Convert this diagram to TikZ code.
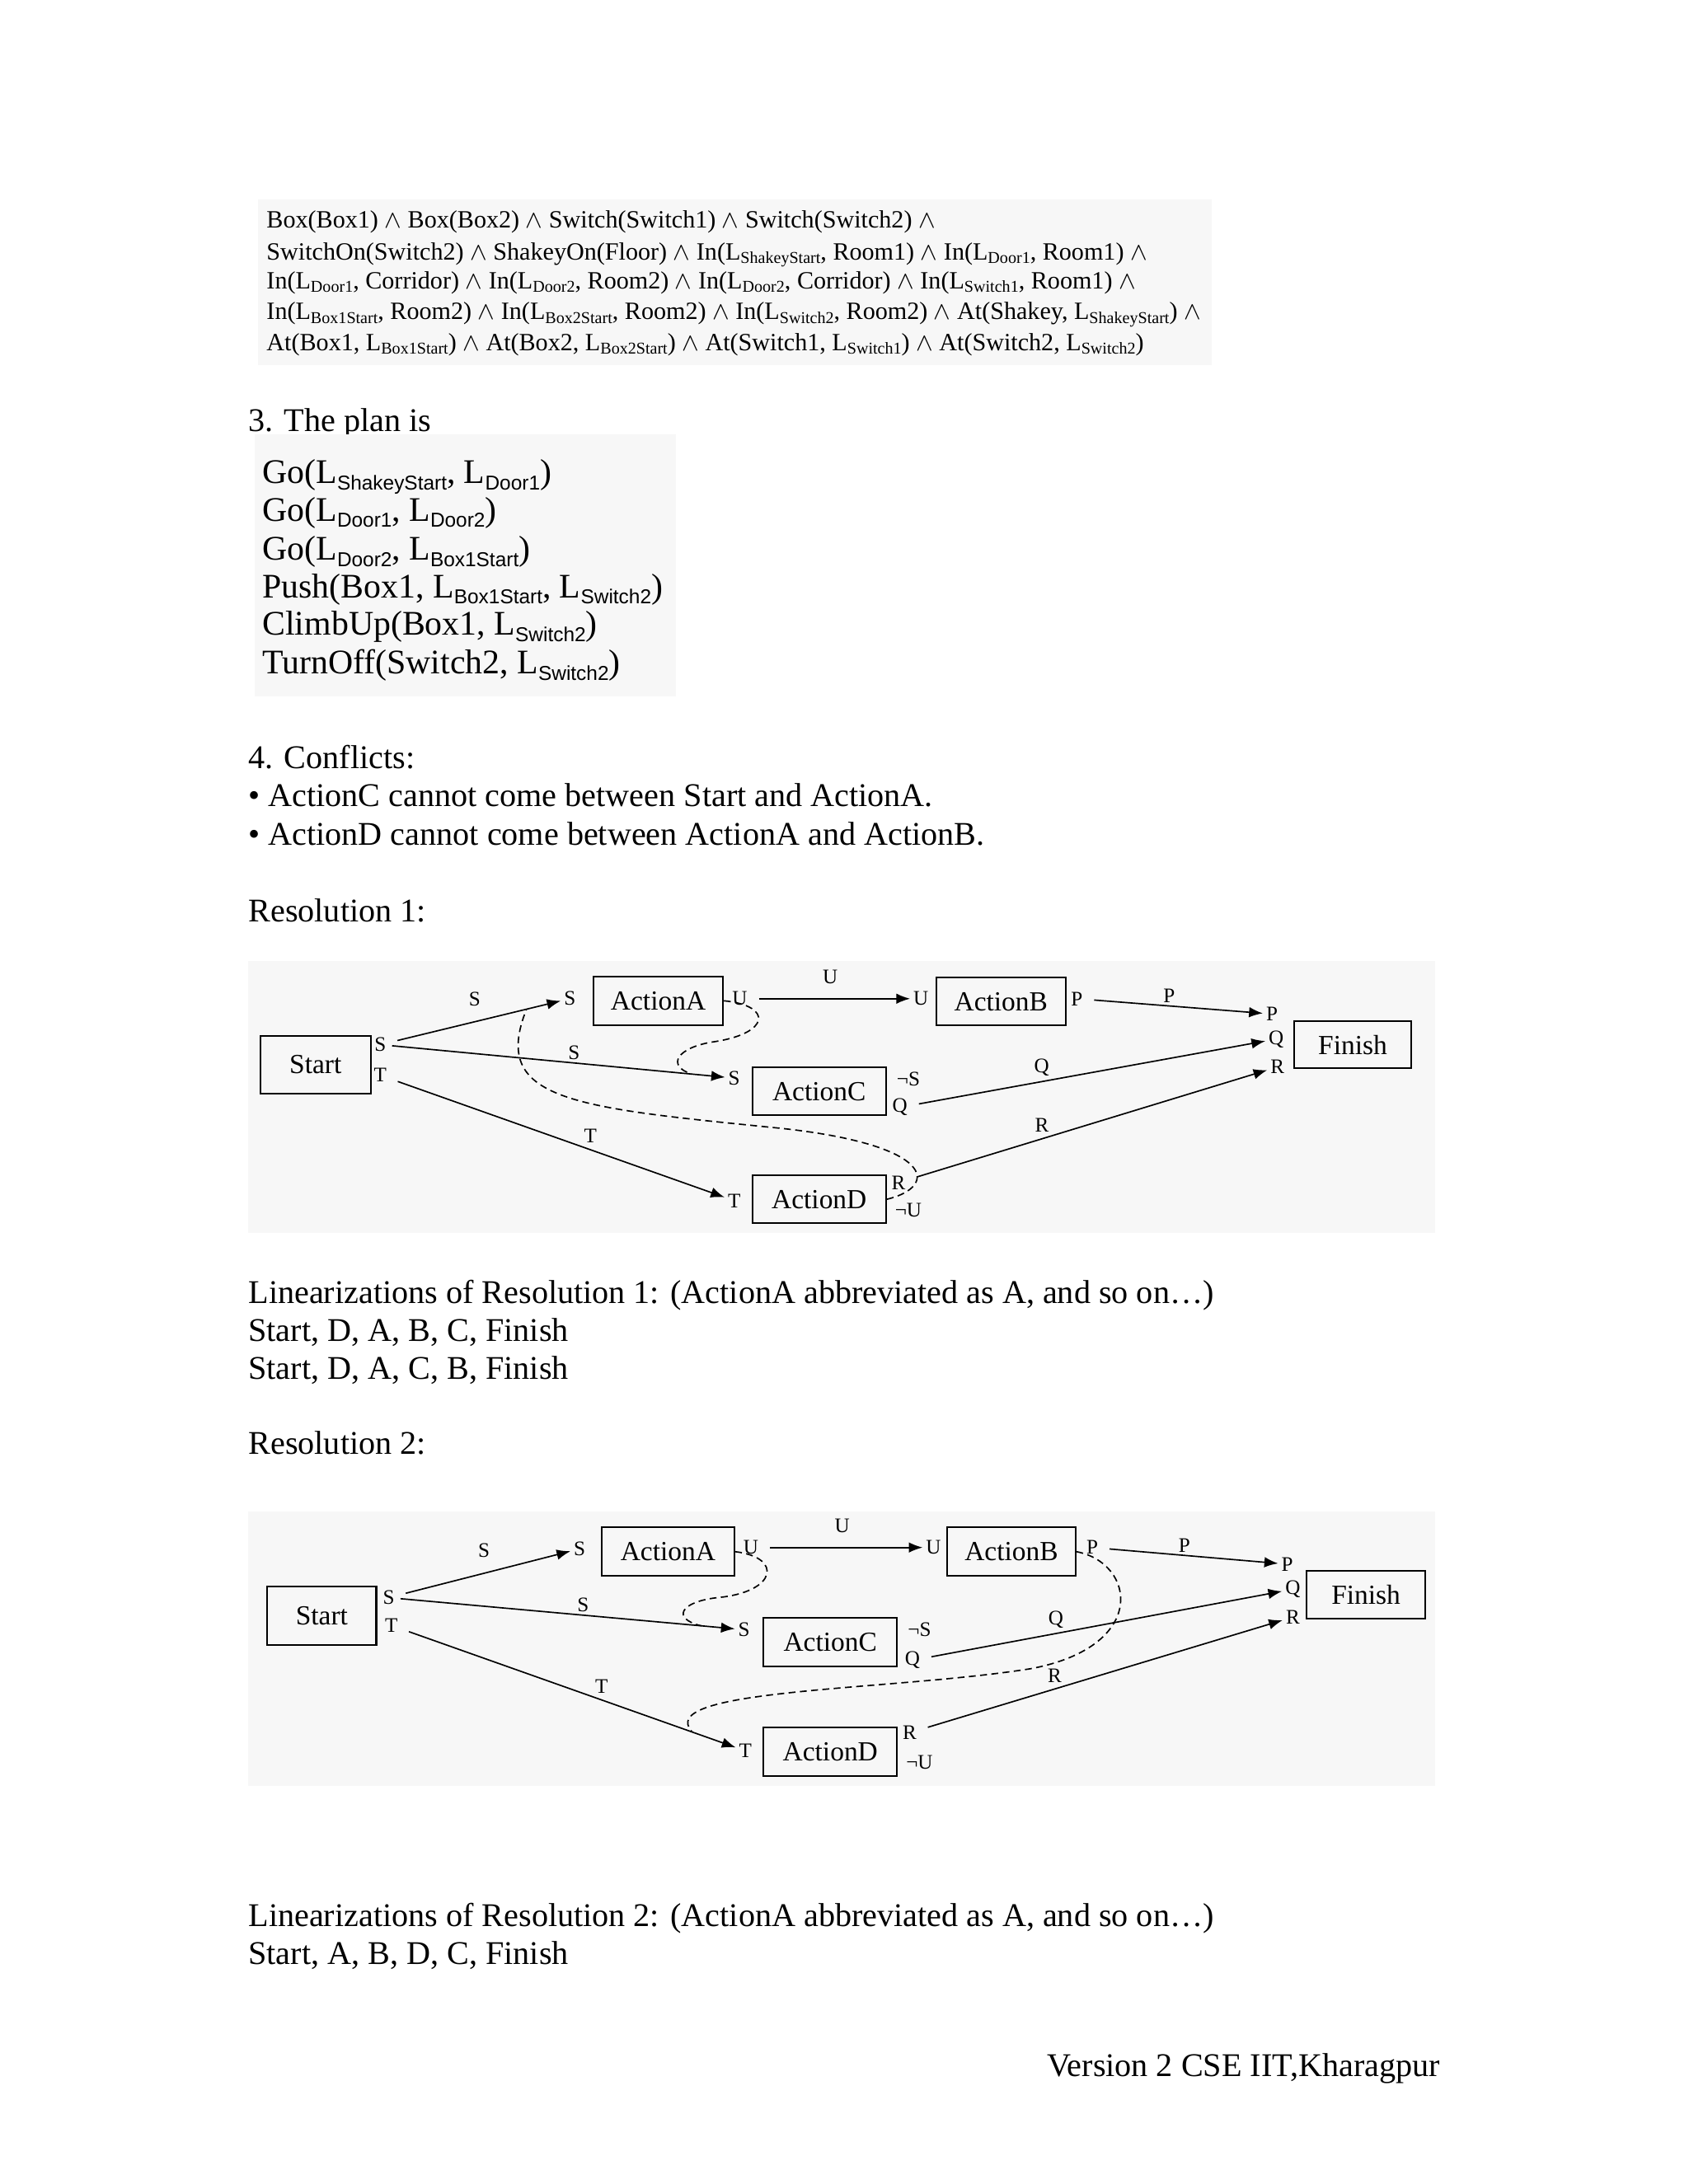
\documentclass[tikz,border=0pt]{standalone}
\usepackage{fontspec}
\setmainfont{Liberation Serif}
\setsansfont{Liberation Sans}
\usetikzlibrary{arrows.meta}

\newcommand{\Lf}[1]{L\raisebox{-0.3ex}{\fontsize{6}{6}\selectfont #1}}
\newcommand{\Lp}[1]{L\raisebox{-0.4ex}{\sffamily\fontsize{7.3}{8}\selectfont #1}}
\newcommand{\andop}{\ $\wedge$\ }

\tikzset{
  body/.style={anchor=base west, inner sep=0pt, font=\fontsize{12}{14}\selectfont},
  formula/.style={anchor=base west, inner sep=0pt, font=\fontsize{9}{11}\selectfont},
  planline/.style={anchor=base west, inner sep=0pt, font=\fontsize{12.5}{14}\selectfont},
  panel/.style={fill=black!3},
  actbox/.style={draw, line width=0.6pt, inner sep=0pt, minimum width=47pt, minimum height=17.5pt, font=\fontsize{10}{12}\selectfont},
  port/.style={inner sep=1pt, font=\fontsize{7.5}{8}\selectfont},
  edgelab/.style={inner sep=1pt, font=\fontsize{7.5}{8}\selectfont},
  conn/.style={-{Latex[length=5pt,width=3.8pt]}, line width=0.5pt, shorten <=1pt},
  threat/.style={line width=0.5pt, dash pattern=on 2.5pt off 1.6pt}
}

\begin{document}
\begin{tikzpicture}[x=0.505pt, y=-0.505pt]
    % Lapas
    \useasboundingbox[fill=white] (0,0) rectangle (1212,1568);

    % Pradinė būsena
    \fill[panel] (185,143) rectangle (870,262);
    \node[formula] (init1) at (191,163.5) {Box(Box1)\andop Box(Box2)\andop Switch(Switch1)\andop Switch(Switch2)\ $\wedge$};
    \node[formula] (init2) at (191,186.5) {SwitchOn(Switch2)\andop ShakeyOn(Floor)\andop In(\Lf{ShakeyStart}, Room1)\andop In(\Lf{Door1}, Room1)\ $\wedge$};
    \node[formula] (init3) at (191,207.5) {In(\Lf{Door1}, Corridor)\andop In(\Lf{Door2}, Room2)\andop In(\Lf{Door2}, Corridor)\andop In(\Lf{Switch1}, Room1)\ $\wedge$};
    \node[formula] (init4) at (191,229.5) {In(\Lf{Box1Start}, Room2)\andop In(\Lf{Box2Start}, Room2)\andop In(\Lf{Switch2}, Room2)\andop At(Shakey, \Lf{ShakeyStart})\ $\wedge$};
    \node[formula] (init5) at (191,251.5) {At(Box1, \Lf{Box1Start})\andop At(Box2, \Lf{Box2Start})\andop At(Switch1, \Lf{Switch1})\andop At(Switch2, \Lf{Switch2})};

    % Planas
    \node[body] (planhead) at (178,310) {3. The plan is};
    \fill[panel] (183,312) rectangle (485,500);
    \node[planline] (plan1) at (188,347) {Go(\Lp{ShakeyStart}, \Lp{Door1})};
    \node[planline] (plan2) at (188,374) {Go(\Lp{Door1}, \Lp{Door2})};
    \node[planline] (plan3) at (188,402) {Go(\Lp{Door2}, \Lp{Box1Start})};
    \node[planline] (plan4) at (188,429) {Push(Box1, \Lp{Box1Start}, \Lp{Switch2})};
    \node[planline] (plan5) at (188,456) {ClimbUp(Box1, \Lp{Switch2})};
    \node[planline] (plan6) at (188,484) {TurnOff(Switch2, \Lp{Switch2})};

    % Konfliktai
    \node[body] (confhead) at (178,552) {4. Conflicts:};
    \node[body] (conf1) at (178,579) {• ActionC cannot come between Start and ActionA.};
    \node[body] (conf2) at (178,607) {• ActionD cannot come between ActionA and ActionB.};
    \node[body] (res1head) at (178,662) {Resolution 1:};

    % Pirmas sprendimas
    \fill[panel] (178,690) rectangle (1030,885);
    \node[actbox, minimum width=40pt, minimum height=21pt] (start1) at (226.5,764.5) {Start};
    \node[actbox] (actA1) at (472.5,718.5) {ActionA};
    \node[actbox] (actB1) at (718.5,719) {ActionB};
    \node[actbox, minimum width=48.5pt] (actC1) at (588,783.5) {ActionC};
    \node[actbox, minimum width=48.5pt] (actD1) at (588,861) {ActionD};
    \node[actbox, minimum width=42.5pt, minimum height=17.2pt] (finish1) at (971,750) {Finish};

    \node[port] (s1S) at (273,750) {S};
    \node[port] (s1T) at (273,772) {T};
    \node[port] (a1S) at (409,717) {S};
    \node[port] (a1U) at (531,717) {U};
    \node[port] (b1U) at (661,717) {U};
    \node[port] (b1P) at (773,717) {P};
    \node[port] (c1S) at (527,774) {S};
    \node[port] (c1nS) at (652,775) {¬S};
    \node[port] (c1Q) at (646,795) {Q};
    \node[port] (d1T) at (527,862) {T};
    \node[port] (d1R) at (645,849) {R};
    \node[port] (d1nU) at (652,869) {¬U};
    \node[port] (f1P) at (913,728) {P};
    \node[port] (f1Q) at (916,746) {Q};
    \node[port] (f1R) at (917,766) {R};

    \draw[conn, shorten <=3pt] (s1S) -- node[edgelab, above left=3pt, pos=0.6] (e1S) {S} coordinate[pos=0.8] (sa1) (a1S);
    \draw[conn] (s1S) -- node[edgelab, above, pos=0.55] (e1Sc) {S} coordinate[pos=0.9] (sc1) (c1S);
    \draw[conn, shorten <=3pt] (s1T) -- node[edgelab, above right, pos=0.57] (e1T) {T} (d1T);
    \draw[conn, shorten <=3pt] (a1U) -- node[edgelab, above=4pt] (e1U) {U} (b1U);
    \draw[conn, shorten <=3pt] (b1P) -- node[edgelab, above, pos=0.47] (e1P) {P} (f1P);
    \draw[conn, shorten <=3pt] (c1Q) -- node[edgelab, above left, pos=0.4] (e1Q) {Q} (f1Q);
    \draw[conn, shorten <=3pt] (d1R) -- node[edgelab, above left, pos=0.4] (e1R) {R} (f1R);

    % Grėsmės
    \draw[threat] (actA1.east) .. controls (555,722) and (553,742) .. (512,748)
        .. controls (486,752) and (478,765) .. (sc1);
    \draw[threat] (actD1.east) .. controls (674,852) and (672,822) .. (560,810)
        .. controls (410,795) and (352,790) .. (sa1);

    % Linearizacijos
    \node[body] (lin1head) at (178,936) {Linearizations of Resolution 1: (ActionA abbreviated as A, and so on…)};
    \node[body] (lin1a) at (178,963) {Start, D, A, B, C, Finish};
    \node[body] (lin1b) at (178,990) {Start, D, A, C, B, Finish};
    \node[body] (res2head) at (178,1044) {Resolution 2:};

    % Antras sprendimas
    \fill[panel] (178,1085) rectangle (1030,1282);
    \node[actbox, minimum width=39.5pt, minimum height=21pt] (start2) at (231,1160) {Start};
    \node[actbox, minimum width=48pt] (actA2) at (479.5,1114) {ActionA};
    \node[actbox, minimum width=46.5pt] (actB2) at (726,1114) {ActionB};
    \node[actbox, minimum width=48.5pt] (actC2) at (596,1179) {ActionC};
    \node[actbox, minimum width=48.5pt] (actD2) at (596,1257.5) {ActionD};
    \node[actbox, minimum width=43pt, minimum height=17.2pt] (finish2) at (980.5,1145) {Finish};

    \node[port] (s2S) at (279,1147) {S};
    \node[port] (s2T) at (281,1167) {T};
    \node[port] (a2S) at (416,1112) {S};
    \node[port] (a2U) at (539,1111) {U};
    \node[port] (b2U) at (670,1111) {U};
    \node[port] (b2P) at (784,1111) {P};
    \node[port] (c2S) at (534,1170) {S};
    \node[port] (c2nS) at (660,1170) {¬S};
    \node[port] (c2Q) at (655,1192) {Q};
    \node[port] (d2T) at (535,1257) {T};
    \node[port] (d2R) at (653,1244) {R};
    \node[port] (d2nU) at (660,1265) {¬U};
    \node[port] (f2P) at (924,1123) {P};
    \node[port] (f2Q) at (928,1141) {Q};
    \node[port] (f2R) at (928,1161) {R};

    \draw[conn, shorten <=3pt] (s2S) -- node[edgelab, above left=3pt, pos=0.6] (e2S) {S} (a2S);
    \draw[conn] (s2S) -- node[edgelab, above, pos=0.55] (e2Sc) {S} coordinate[pos=0.9] (sc2) (c2S);
    \draw[conn, shorten <=3pt] (s2T) -- node[edgelab, above right, pos=0.57] (e2T) {T} coordinate[pos=0.87] (td2) (d2T);
    \draw[conn, shorten <=3pt] (a2U) -- node[edgelab, above=4pt] (e2U) {U} (b2U);
    \draw[conn, shorten <=3pt] (b2P) -- node[edgelab, above, pos=0.47] (e2P) {P} (f2P);
    \draw[conn, shorten <=3pt] (c2Q) -- node[edgelab, above left, pos=0.4] (e2Q) {Q} (f2Q);
    \draw[conn, shorten <=3pt] (d2R) -- node[edgelab, above left, pos=0.4] (e2R) {R} (f2R);

    % Grėsmės
    \draw[threat] (actA2.east) .. controls (562,1118) and (558,1143) .. (515,1147)
        .. controls (488,1150) and (482,1162) .. (sc2);
    \draw[threat] (actB2.east) .. controls (815,1122) and (825,1182) .. (740,1198)
        .. controls (640,1214) and (468,1212) .. (td2);

    % Linearizacijos
    \node[body] (lin2head) at (178,1383) {Linearizations of Resolution 2: (ActionA abbreviated as A, and so on…)};
    \node[body] (lin2a) at (178,1410) {Start, A, B, D, C, Finish};

    % Poraštė
    \node[body, anchor=base east] (footer) at (1034,1491) {Version 2 CSE IIT,Kharagpur};
\end{tikzpicture}
\end{document}
